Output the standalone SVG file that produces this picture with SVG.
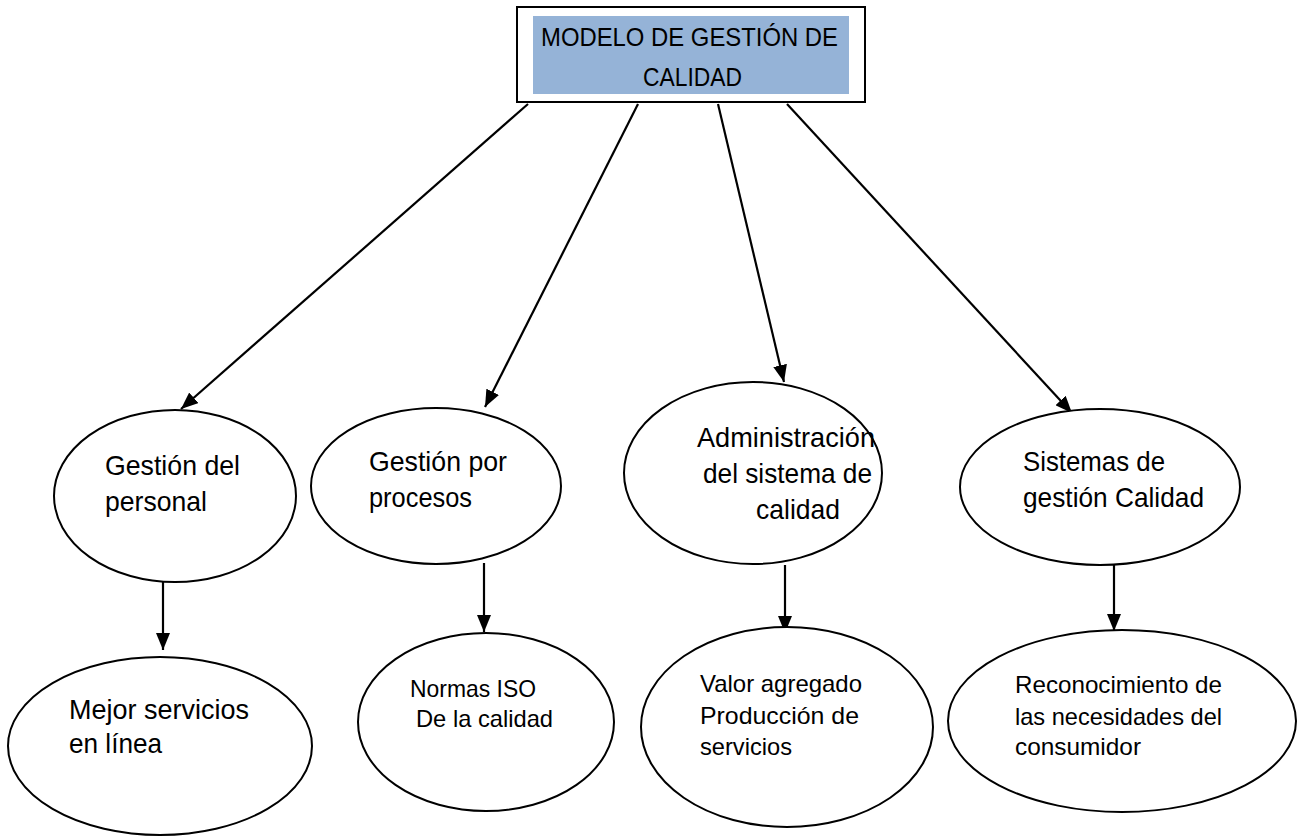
<svg xmlns="http://www.w3.org/2000/svg" width="1302" height="837" viewBox="0 0 1302 837">
  <style>
    .node { fill: #ffffff; stroke: #000000; stroke-width: 2; }
    .edge { fill: none; stroke: #000000; stroke-width: 2.2; marker-end: url(#arrow); }
    text { font-family: "Liberation Sans", Arial, sans-serif; fill: #000000; }
    .t1 { font-size: 26px; }
    .t2 { font-size: 28px; }
    .t3 { font-size: 24px; }
  </style>
  <defs>
    <marker id="arrow" markerUnits="userSpaceOnUse" markerWidth="17" markerHeight="14" refX="17" refY="7" orient="auto">
      <path d="M0,0 L17,7 L0,14 Z" fill="#000000"/>
    </marker>
  </defs>
  <rect width="1302" height="837" fill="#ffffff"/>

  <!-- root -->
  <g id="modelo">
    <rect x="517" y="7" width="348" height="95" fill="#ffffff" stroke="#000000" stroke-width="2"/>
    <rect x="533" y="16" width="316" height="78" fill="#95B3D7"/>
    <text class="t1" x="541" y="46" textLength="297" lengthAdjust="spacingAndGlyphs">MODELO DE GESTIÓN DE</text>
    <text class="t1" x="643" y="86" textLength="99" lengthAdjust="spacingAndGlyphs">CALIDAD</text>
  </g>

  <!-- connectors -->
  <g id="connectors">
    <line class="edge" x1="528" y1="104" x2="181" y2="409"/>
    <line class="edge" x1="638" y1="104" x2="485" y2="407"/>
    <line class="edge" x1="718" y1="104" x2="784" y2="382"/>
    <line class="edge" x1="787" y1="104" x2="1072" y2="413"/>
    <line class="edge" x1="163" y1="582" x2="163" y2="650"/>
    <line class="edge" x1="484" y1="563" x2="484" y2="632"/>
    <line class="edge" x1="785" y1="565" x2="785" y2="633"/>
    <line class="edge" x1="1114" y1="564" x2="1114" y2="631"/>
  </g>

  <!-- first level -->
  <g id="gestion-personal">
    <ellipse class="node" cx="175" cy="496" rx="121" ry="86"/>
    <text class="t2" x="105" y="475" textLength="135" lengthAdjust="spacingAndGlyphs">Gestión del</text>
    <text class="t2" x="105" y="511" textLength="102" lengthAdjust="spacingAndGlyphs">personal</text>
  </g>
  <g id="gestion-procesos">
    <ellipse class="node" cx="436" cy="486" rx="125" ry="78"/>
    <text class="t2" x="369" y="471" textLength="138" lengthAdjust="spacingAndGlyphs">Gestión por</text>
    <text class="t2" x="369" y="507" textLength="103" lengthAdjust="spacingAndGlyphs">procesos</text>
  </g>
  <g id="administracion">
    <ellipse class="node" cx="753" cy="473" rx="129" ry="91"/>
    <text class="t2" x="697" y="447" textLength="178" lengthAdjust="spacingAndGlyphs">Administración</text>
    <text class="t2" x="703" y="483" textLength="169" lengthAdjust="spacingAndGlyphs">del sistema de</text>
    <text class="t2" x="756" y="519" textLength="84" lengthAdjust="spacingAndGlyphs">calidad</text>
  </g>
  <g id="sistemas">
    <ellipse class="node" cx="1100" cy="487" rx="140" ry="78"/>
    <text class="t2" x="1023" y="471" textLength="142" lengthAdjust="spacingAndGlyphs">Sistemas de</text>
    <text class="t2" x="1023" y="507" textLength="181" lengthAdjust="spacingAndGlyphs">gestión Calidad</text>
  </g>

  <!-- second level -->
  <g id="mejor-servicios">
    <ellipse class="node" cx="160" cy="746" rx="152" ry="89"/>
    <text class="t2" x="69" y="719" textLength="180" lengthAdjust="spacingAndGlyphs">Mejor servicios</text>
    <text class="t2" x="69" y="753" textLength="93" lengthAdjust="spacingAndGlyphs">en línea</text>
  </g>
  <g id="normas-iso">
    <ellipse class="node" cx="486" cy="722" rx="128" ry="89"/>
    <text class="t3" x="410" y="697" textLength="126" lengthAdjust="spacingAndGlyphs">Normas ISO</text>
    <text class="t3" x="416" y="727" textLength="137" lengthAdjust="spacingAndGlyphs">De la calidad</text>
  </g>
  <g id="valor-agregado">
    <ellipse class="node" cx="787" cy="727" rx="146" ry="100"/>
    <text class="t3" x="700" y="692" textLength="162" lengthAdjust="spacingAndGlyphs">Valor agregado</text>
    <text class="t3" x="700" y="724" textLength="159" lengthAdjust="spacingAndGlyphs">Producción de</text>
    <text class="t3" x="700" y="755" textLength="92" lengthAdjust="spacingAndGlyphs">servicios</text>
  </g>
  <g id="reconocimiento">
    <ellipse class="node" cx="1122" cy="721" rx="174" ry="91"/>
    <text class="t3" x="1015" y="693" textLength="207" lengthAdjust="spacingAndGlyphs">Reconocimiento de</text>
    <text class="t3" x="1015" y="725" textLength="207" lengthAdjust="spacingAndGlyphs">las necesidades del</text>
    <text class="t3" x="1015" y="755" textLength="126" lengthAdjust="spacingAndGlyphs">consumidor</text>
  </g>
</svg>
